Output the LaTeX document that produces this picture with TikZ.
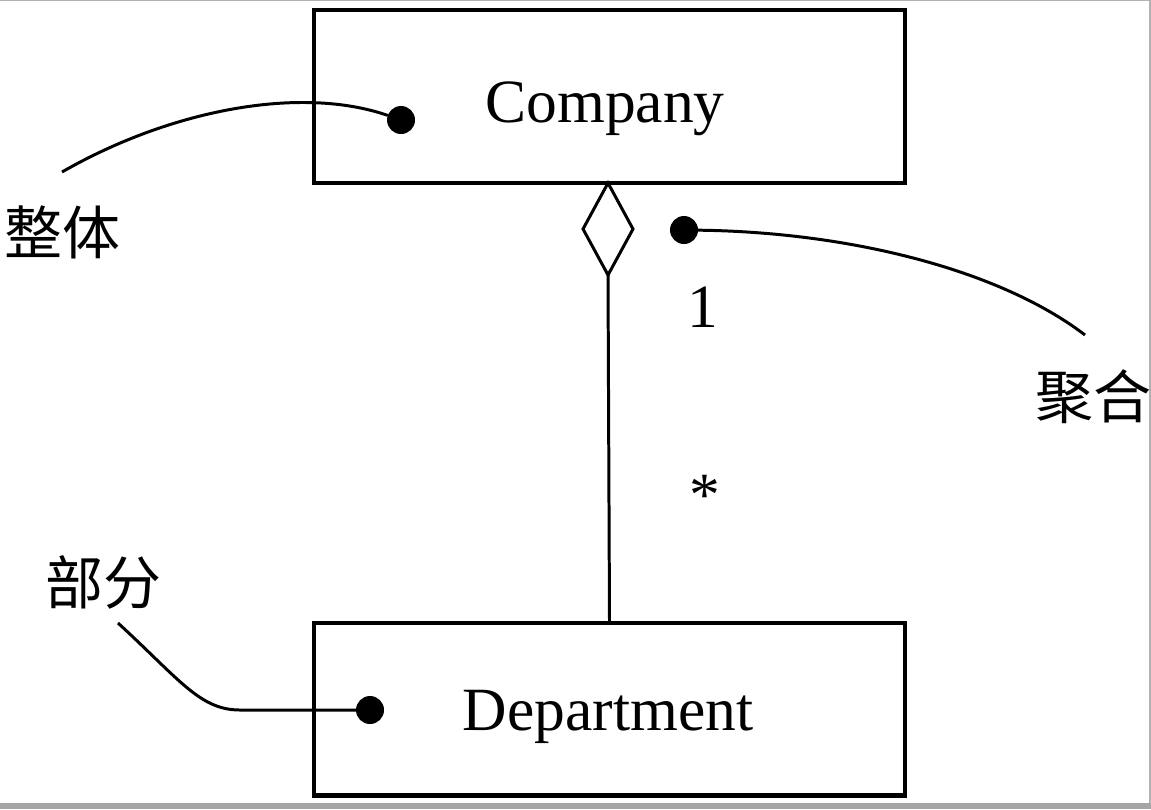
\documentclass[tikz,border=0pt]{standalone}
\usepackage{fontspec}
\setmainfont{Liberation Serif}
\newfontfamily\cjk{Noto Sans CJK SC}
\usetikzlibrary{shapes.geometric}

\begin{document}
\begin{tikzpicture}[x=0.02cm, y=-0.02cm]
\tikzset{ >=latex, inner sep=0pt, outer sep=0pt,
  cls/.style={draw, line width=2.3pt, minimum width=11.82cm, minimum height=3.46cm},
  big/.style={font=\fontsize{35}{40}\selectfont},
  note/.style={font=\cjk\fontsize{33}{38}\selectfont},
  dot/.style={fill=black, circle, minimum size=0.56cm},
  lead/.style={line width=1.7pt},
}

\useasboundingbox (0,0) rectangle (1151,809);
\fill [gray!70] (0,803) rectangle (1151,809);
\draw [gray!60, line width=1pt] (0,0.5) -- (1150,0.5) -- (1150,803);

\node [cls] (C) at (609.5,96.5) {};
\node [cls] (D) at (609.5,709) {};

\node [big, anchor=base] (Cname) at (605,122) {Company};
\node [big, anchor=base] (Dname) at (608,730) {Department};

\node [draw, fill=white, diamond, line width=1.7pt, minimum width=1cm, minimum height=1.84cm] (agg) at (608,229) {};
\draw [lead] (agg.south) -- (D.north);

\node [big, anchor=base] (one)  at (703,327) {1};
\node [big] (many) at (705,495) {*};

\node [dot] (Cdot) at (401,120) {};
\node [dot] (Adot) at (684,230) {};
\node [dot] (Ddot) at (370,710) {};

\node [note] (whole) at (62,232) {整体};
\node [note] (aggr)  at (1093,397) {聚合};
\node [note] (part)  at (103,582) {部分};

\coordinate (w1) at (62,172);
\coordinate (a1) at (1085,335);
\coordinate (p1) at (118,623);
\coordinate (p2) at (240,710);

\draw [lead] (w1) .. controls (170,110) and (300,85) .. (Cdot);
\draw [lead] (Adot) .. controls (850,232) and (1000,270) .. (a1);
\draw [lead] (p1) .. controls (180,680) and (200,710) .. (p2) -- (Ddot);

\end{tikzpicture}
\end{document}
